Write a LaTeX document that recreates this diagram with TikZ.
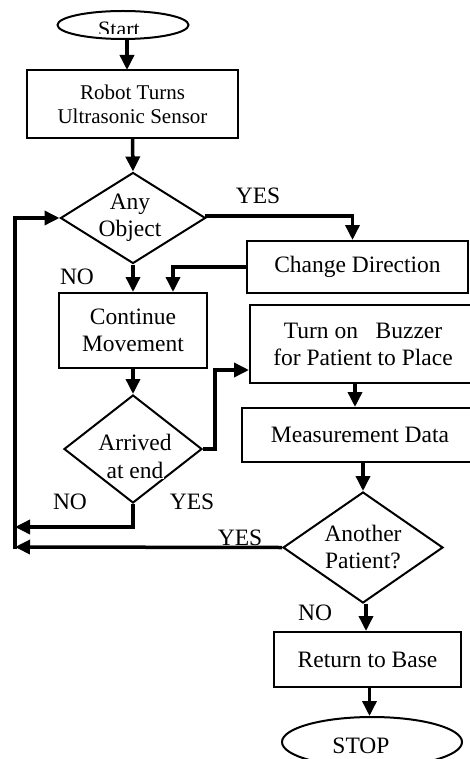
\documentclass[tikz,border=0pt]{standalone}
\usepackage{fontspec}
\setmainfont{Liberation Serif}
\usetikzlibrary{shapes.geometric,arrows.meta}
\begin{document}
\begin{tikzpicture}[x=1pt,y=-1pt,
  txt/.style={font=\fontsize{23.5}{27}\selectfont, align=center, inner sep=0pt},
  box/.style={draw, line width=2pt, inner sep=0pt, align=center, font=\fontsize{23.5}{27}\selectfont},
  dia/.style={draw, diamond, line width=2pt, inner sep=0pt},
  oval/.style={draw, ellipse, line width=2pt, inner sep=0pt},
  conn/.style={line width=3.5pt, -{Triangle[length=15pt,width=14pt]}},
  plain/.style={line width=3.5pt}]
\useasboundingbox (0,0) rectangle (469,759);

% nodes
\node[oval, minimum width=131pt, minimum height=28pt] (start) at (123,25) {};
\begin{scope}
  \clip (50,0) rectangle (200,34);
  \node[txt, font=\fontsize{22}{24}\selectfont, anchor=base] (starttxt) at (119,36.5) {Start};
\end{scope}
\node[box, minimum width=211pt, minimum height=68pt, font=\fontsize{21}{24}\selectfont] (robot) at (132.5,104) {Robot Turns\\Ultrasonic Sensor};
\node[dia, minimum width=145pt, minimum height=91pt] (any) at (133,218) {};
\node[txt] (anytxt) at (130,218) {Any\\Object};
\node[box, minimum width=221pt, minimum height=52pt] (chg) at (357.5,267) {Change Direction};
\node[box, minimum width=148pt, minimum height=75pt] (cont) at (133,330.5) {Continue\\Movement};
\node[dia, minimum width=138pt, minimum height=108pt] (arr) at (133,449) {};
\node[txt] (arrtxt1) at (135,442) {Arrived};
\node[txt, fill=white, inner sep=0.5pt] (arrtxt2) at (135,470) {at end};
\node[box, minimum width=226pt, minimum height=78pt] (buz) at (363,344) {Turn on \ \ Buzzer\\for Patient to Place};
\node[box, minimum width=236pt, minimum height=54pt] (meas) at (360,435) {Measurement Data};
\node[dia, minimum width=160pt, minimum height=111pt] (anp) at (363,547.5) {};
\node[txt] (anptxt) at (363,547) {Another\\Patient?};
\node[box, minimum width=187pt, minimum height=55pt] (ret) at (367.5,659.5) {Return to Base};
\node[oval, minimum width=180pt, minimum height=50pt] (stop) at (372,742) {};
\node[txt] (stoptxt) at (361,746) {STOP};

% labels
\node[txt] (yes1) at (258,196) {YES};
\node[txt] (no1) at (77,277) {NO};
\node[txt] (no2) at (70,502) {NO};
\node[txt] (yes2) at (192,502) {YES};
\node[txt] (yes3) at (240,538) {YES};
\node[txt] (no3) at (315,613) {NO};

% coordinates
\coordinate (l1) at (15,527);
\coordinate (l2) at (15,547);
\coordinate (lb) at (15,549);
\coordinate (bend) at (215,449);

% connectors
\draw[conn] (127,39) -- (127,70);
\draw[conn] (robot.south) -- (any.north);
\draw[conn] (any.east) -- ++(0,-2) -| ([xshift=-5pt]chg.north);
\draw[conn] (chg.west) -| ([xshift=40pt]cont.north);
\draw[conn] (any.south) -- (cont.north);
\draw[conn] (cont.south) -- (arr.north);
\draw[conn] (arr.east) -- (bend) |- ([yshift=-26pt]buz.west);
\draw[conn] ([xshift=-8pt]buz.south) -- ([xshift=-8pt]buz.south |- meas.north);
\draw[conn] (meas.south -| anp.north) -- (anp.north);
\draw[conn] ([xshift=3pt]anp.south) -- ([xshift=3pt]anp.south |- ret.north);
\draw[conn] ([xshift=2pt]ret.south) -- ([xshift=2pt]ret.south |- stop.north);
\draw[conn] (arr.south) |- (l1);
\draw[conn] (anp.west) -- (l2);
\draw[conn] (lb) |- (any.west);
\end{tikzpicture}
\end{document}
